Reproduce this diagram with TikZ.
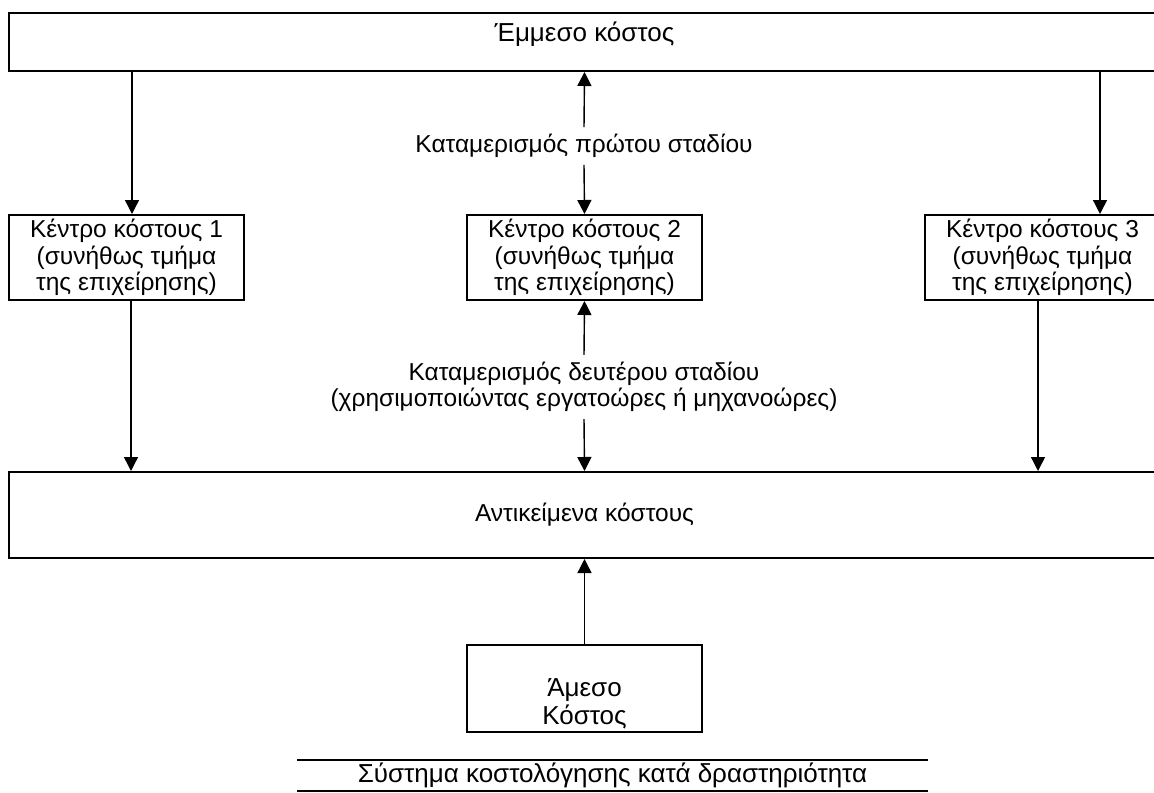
\documentclass[tikz,border=0pt]{standalone}
\usepackage{fontspec}
\setmainfont{Liberation Sans}
\usetikzlibrary{arrows.meta}

\begin{document}
\begin{tikzpicture}[x=0.5pt, y=-0.5pt, line width=1pt,
font=\fontsize{12.25}{13.25}\selectfont]
\tikzset{box/.style={draw, rectangle, align=center, inner sep=1pt,
minimum width=117.5pt, minimum height=42.5pt},
widebox/.style={box, minimum width=575.5pt},
big/.style={font=\fontsize{13}{14}\selectfont},
arr/.style={line width=0.7pt, -{Triangle[length=7pt,width=7pt]}},
tag/.style={align=center, inner sep=3pt},
}
\useasboundingbox (0,0) rectangle (1154,792);
% boxes
\node[widebox, minimum height=29pt,
label={[big, anchor=north, yshift=-1pt]north:Έμμεσο κόστος}] (indirect) at (584.5,42) {};
\node[box] (centre1) at (126.5,257.5) {Κέντρο κόστους 1\\(συνήθως τμήμα\\της επιχείρησης)};
\node[box] (centre2) at (584.5,257.5) {Κέντρο κόστους 2\\(συνήθως τμήμα\\της επιχείρησης)};
\node[box] (centre3) at (1042.5,257.5) {Κέντρο κόστους 3\\(συνήθως τμήμα\\της επιχείρησης)};
\node[widebox, minimum height=43pt] (objects) at (584.5,515) {Αντικείμενα κόστους};
\node[box, minimum height=43.5pt,
label={[big, anchor=south, align=center, yshift=-2pt]south:Άμεσο\\Κόστος}] (direct) at (584.5,688.5) {};
% stage labels
\node[tag] (stage1) at (584,146) {Καταμερισμός πρώτου σταδίου};
\node[tag] (stage2) at (584,387) {Καταμερισμός δευτέρου σταδίου\\(χρησιμοποιώντας εργατοώρες ή μηχανοώρες)};
\node[big, minimum width=314.5pt, minimum height=14.5pt, inner sep=0pt] (title) at (612.5,775) {Σύστημα κοστολόγησης κατά δραστηριότητα};
\draw (title.north west) -- (title.north east) (title.south west) -- (title.south east);
% columns
\coordinate (colA) at (132,0);
\coordinate (colB) at (131,0);
\coordinate (colC) at (1100,0);
\coordinate (colD) at (1038,0);
% first stage
\draw[arr] (colA |- indirect.south) -- (colA |- centre1.north);
\draw[arr] (stage1.north) -- (indirect.south);
\draw[arr] (stage1.south) -- (centre2.north);
\draw[arr] (colC |- indirect.south) -- (colC |- centre3.north);
% second stage
\draw[arr] (colB |- centre1.south) -- (colB |- objects.north);
\draw[arr] (stage2.north) -- (centre2.south);
\draw[arr] (stage2.south) -- (objects.north);
\draw[arr] (colD |- centre3.south) -- (colD |- objects.north);
\draw[arr] (direct.north) -- (objects.south);
\end{tikzpicture}
\end{document}
